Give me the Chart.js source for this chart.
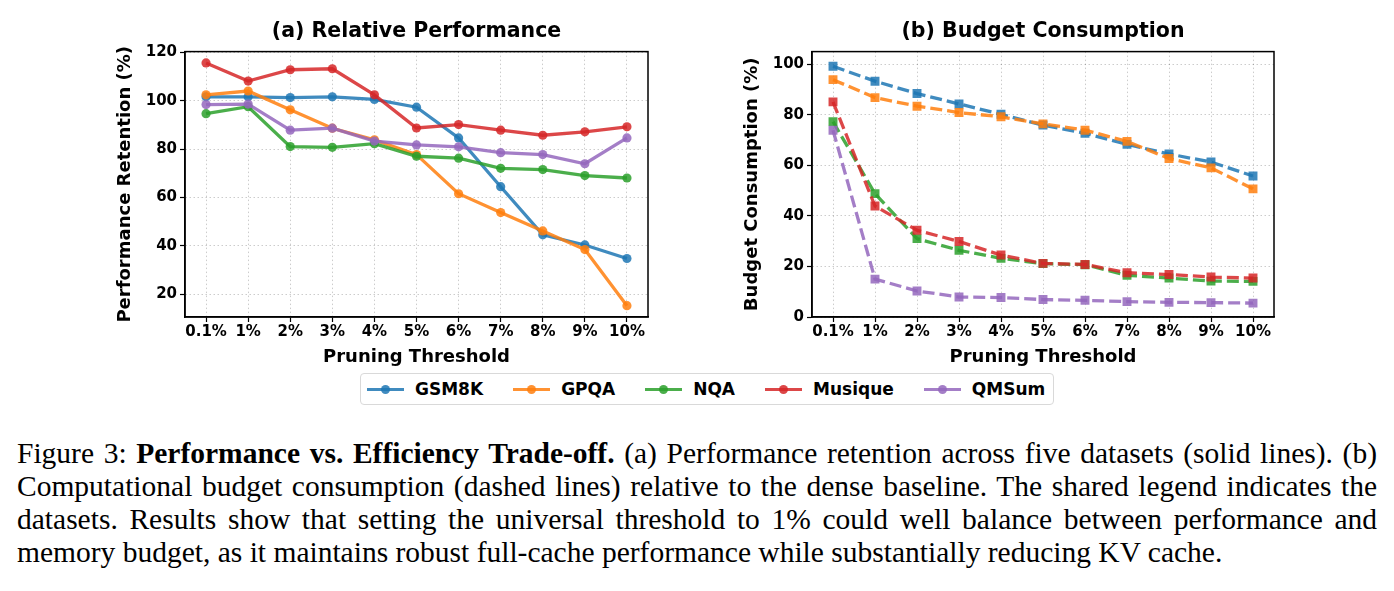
<!DOCTYPE html>
<html lang="en">
<head>
<meta charset="UTF-8">
<title>Performance vs. Efficiency Trade-off</title>
<script src="https://cdn.jsdelivr.net/npm/chart.js"></script>
<style>
  body {
    margin: 0;
    background: #fff;
    width: 1394px;
    height: 591px;
    overflow: hidden;
    position: relative;
    font-family: 'DejaVu Sans', sans-serif;
  }
  #perfChart { position: absolute; left: 0; top: 0; }
  #budgetChart { position: absolute; left: 680px; top: 0; }
  .legend {
    position: absolute;
    left: 360px;
    top: 373px;
    height: 32px;
    box-sizing: border-box;
    border: 1px solid #d9d9d9;
    border-radius: 4px;
    display: flex;
    align-items: center;
    padding: 0 8px 0 6px;
    font-weight: bold;
    font-size: 17px;
    color: #000;
  }
  .item { display: flex; align-items: center; margin-right: 30px; }
  .item:last-child { margin-right: 0; }
  .mk { position: relative; width: 37px; height: 3px; margin-right: 11px; }
  .mk i {
    position: absolute; left: 14px; top: -3px;
    width: 9px; height: 9px; border-radius: 50%; background: inherit;
  }
  .caption {
    position: absolute;
    left: 17px;
    top: 437px;
    width: 1360px;
    font-family: 'Liberation Serif', 'Times New Roman', serif;
    font-size: 29.5px;
    line-height: 33px;
    color: #000;
  }
  .caption div { text-align: justify; text-align-last: justify; white-space: nowrap; }
  .caption div.last { text-align-last: left; }
</style>
</head>
<body>
  <canvas id="perfChart" width="680" height="372"></canvas>
  <canvas id="budgetChart" width="714" height="372"></canvas>
  <div class="legend" id="legend"></div>
  <div class="caption">
    <div>Figure 3: <b>Performance vs. Efficiency Trade-off.</b> (a) Performance retention across five datasets (solid lines). (b)</div>
    <div>Computational budget consumption (dashed lines) relative to the dense baseline. The shared legend indicates the</div>
    <div>datasets. Results show that setting the universal threshold to 1% could well balance between performance and</div>
    <div class="last">memory budget, as it maintains robust full-cache performance while substantially reducing KV cache.</div>
  </div>

<script>
const thresholds = ['0.1%', '1%', '2%', '3%', '4%', '5%', '6%', '7%', '8%', '9%', '10%'];
const datasetNames = ['GSM8K', 'GPQA', 'NQA', 'Musique', 'QMSum'];
const colors = ['#1f77b4', '#ff7f0e', '#2ca02c', '#d62728', '#9467bd'];

// (a) performance retention (%)
const perfGSM8K   = [101.6, 101.6, 101.3, 101.6, 100.5, 97.3, 84.6, 64.4, 44.5, 40.3, 34.7];
const perfGPQA    = [102.4, 104.0, 96.2, 88.6, 83.8, 77.7, 61.5, 53.7, 46.1, 38.4, 15.2];
const perfNQA     = [94.6, 97.5, 81.0, 80.7, 82.2, 77.0, 76.2, 72.0, 71.5, 69.0, 68.0];
const perfMusique = [115.6, 108.1, 112.8, 113.2, 102.4, 88.7, 90.1, 87.8, 85.7, 87.1, 89.2];
const perfQMSum   = [98.4, 98.6, 87.8, 88.6, 83.3, 81.7, 80.9, 78.5, 77.7, 73.9, 84.6];

// (b) budget consumption (%)
const budgetGSM8K   = [99.2, 93.3, 88.4, 84.3, 80.2, 75.9, 72.7, 68.3, 64.5, 61.3, 55.8];
const budgetGPQA    = [93.9, 86.8, 83.4, 80.9, 79.2, 76.4, 73.9, 69.5, 62.7, 59.0, 50.7];
const budgetNQA     = [77.3, 48.8, 31.0, 26.4, 23.2, 21.1, 20.7, 16.5, 15.4, 14.2, 14.1];
const budgetMusique = [85.1, 43.9, 34.3, 29.9, 24.5, 21.2, 20.8, 17.5, 16.8, 15.8, 15.4];
const budgetQMSum   = [73.9, 15.0, 10.3, 7.9, 7.7, 6.9, 6.6, 6.1, 5.8, 5.7, 5.5];

const yTicksPerf = [20, 40, 60, 80, 100, 120];
const yTicksBudget = [0, 20, 40, 60, 80, 100];

const perfSeries = [perfGSM8K, perfGPQA, perfNQA, perfMusique, perfQMSum];
const budgetSeries = [budgetGSM8K, budgetGPQA, budgetNQA, budgetMusique, budgetQMSum];

function rgba(hex, a) {
  const n = parseInt(hex.slice(1), 16);
  return `rgba(${(n >> 16) & 255}, ${(n >> 8) & 255}, ${n & 255}, ${a})`;
}

// black box round the plot area
const framePlugin = {
  id: 'frame',
  afterDraw(chart) {
    const { ctx, chartArea: a } = chart;
    ctx.save();
    ctx.strokeStyle = '#000';
    ctx.lineWidth = 1.5;
    ctx.strokeRect(a.left, a.top, a.right - a.left, a.bottom - a.top);
    ctx.restore();
  }
};

const fontFamily = "'DejaVu Sans', sans-serif";
const gridOpts = {
  color: 'rgba(0,0,0,0.2)',
  lineWidth: 1,
  tickColor: '#000',
  tickLength: 5,
  tickWidth: 1.2,
  tickBorderDash: []
};
const borderOpts = { color: '#000', width: 1.5, dash: [1.5, 2.5] };

function makeChart(id, title, yTitle, series, yMin, yMax, yTicks, dashed, pad) {
  const datasets = series.map((data, i) => ({
    label: datasetNames[i],
    data: data,
    borderColor: rgba(colors[i], 0.85),
    backgroundColor: rgba(colors[i], 0.85),
    borderWidth: 3.3,
    borderDash: dashed ? [12, 5] : [],
    pointStyle: dashed ? 'rect' : 'circle',
    pointRadius: dashed ? 6.3 : 4.6,
    pointHoverRadius: dashed ? 6.3 : 4.6,
    pointBorderWidth: 0,
    tension: 0,
    order: series.length - 1 - i
  }));

  return new Chart(document.getElementById(id), {
    type: 'line',
    data: { labels: thresholds, datasets: datasets },
    plugins: [framePlugin],
    options: {
      responsive: false,
      animation: false,
      layout: { padding: pad },
      plugins: {
        legend: { display: false },
        tooltip: { enabled: false },
        title: {
          display: true,
          text: title,
          color: '#000',
          fullSize: false,
          font: { family: fontFamily, size: 20.5, weight: 'bold' },
          padding: { top: 19, bottom: 8 }
        }
      },
      scales: {
        x: {
          type: 'category',
          offset: true,
          grid: Object.assign({ offset: false }, gridOpts),
          border: borderOpts,
          ticks: {
            color: '#000',
            padding: 1,
            maxRotation: 0,
            autoSkip: false,
            font: { family: fontFamily, size: 15, weight: 'bold' }
          },
          title: {
            display: true,
            text: 'Pruning Threshold',
            color: '#000',
            font: { family: fontFamily, size: 18, weight: 'bold' },
            padding: { top: 4, bottom: 4 }
          },
          afterFit(s) { s.height = 55; }
        },
        y: {
          min: yMin,
          max: yMax,
          grid: gridOpts,
          border: borderOpts,
          ticks: {
            color: '#000',
            padding: 3,
            font: { family: fontFamily, size: 15, weight: 'bold' }
          },
          title: {
            display: true,
            text: yTitle,
            color: '#000',
            font: { family: fontFamily, size: 18, weight: 'bold' },
            padding: { top: 4, bottom: 4 }
          },
          afterBuildTicks(s) { s.ticks = yTicks.map(v => ({ value: v })); },
          afterFit(s) { s.width = 74; }
        }
      }
    }
  });
}

makeChart('perfChart', '(a) Relative Performance', 'Performance Retention (%)',
  perfSeries, 10.5, 120.3, yTicksPerf, false, { left: 111, right: 32, top: 0, bottom: 0 });
makeChart('budgetChart', '(b) Budget Consumption', 'Budget Consumption (%)',
  budgetSeries, 0, 105, yTicksBudget, true, { left: 58, right: 120, top: 0, bottom: 0 });

// shared legend
const legend = document.getElementById('legend');
datasetNames.forEach((name, i) => {
  const item = document.createElement('div');
  item.className = 'item';
  const mk = document.createElement('span');
  mk.className = 'mk';
  mk.style.background = rgba(colors[i], 0.85);
  mk.appendChild(document.createElement('i'));
  const txt = document.createElement('span');
  txt.textContent = name;
  item.appendChild(mk);
  item.appendChild(txt);
  legend.appendChild(item);
});
</script>
</body>
</html>
